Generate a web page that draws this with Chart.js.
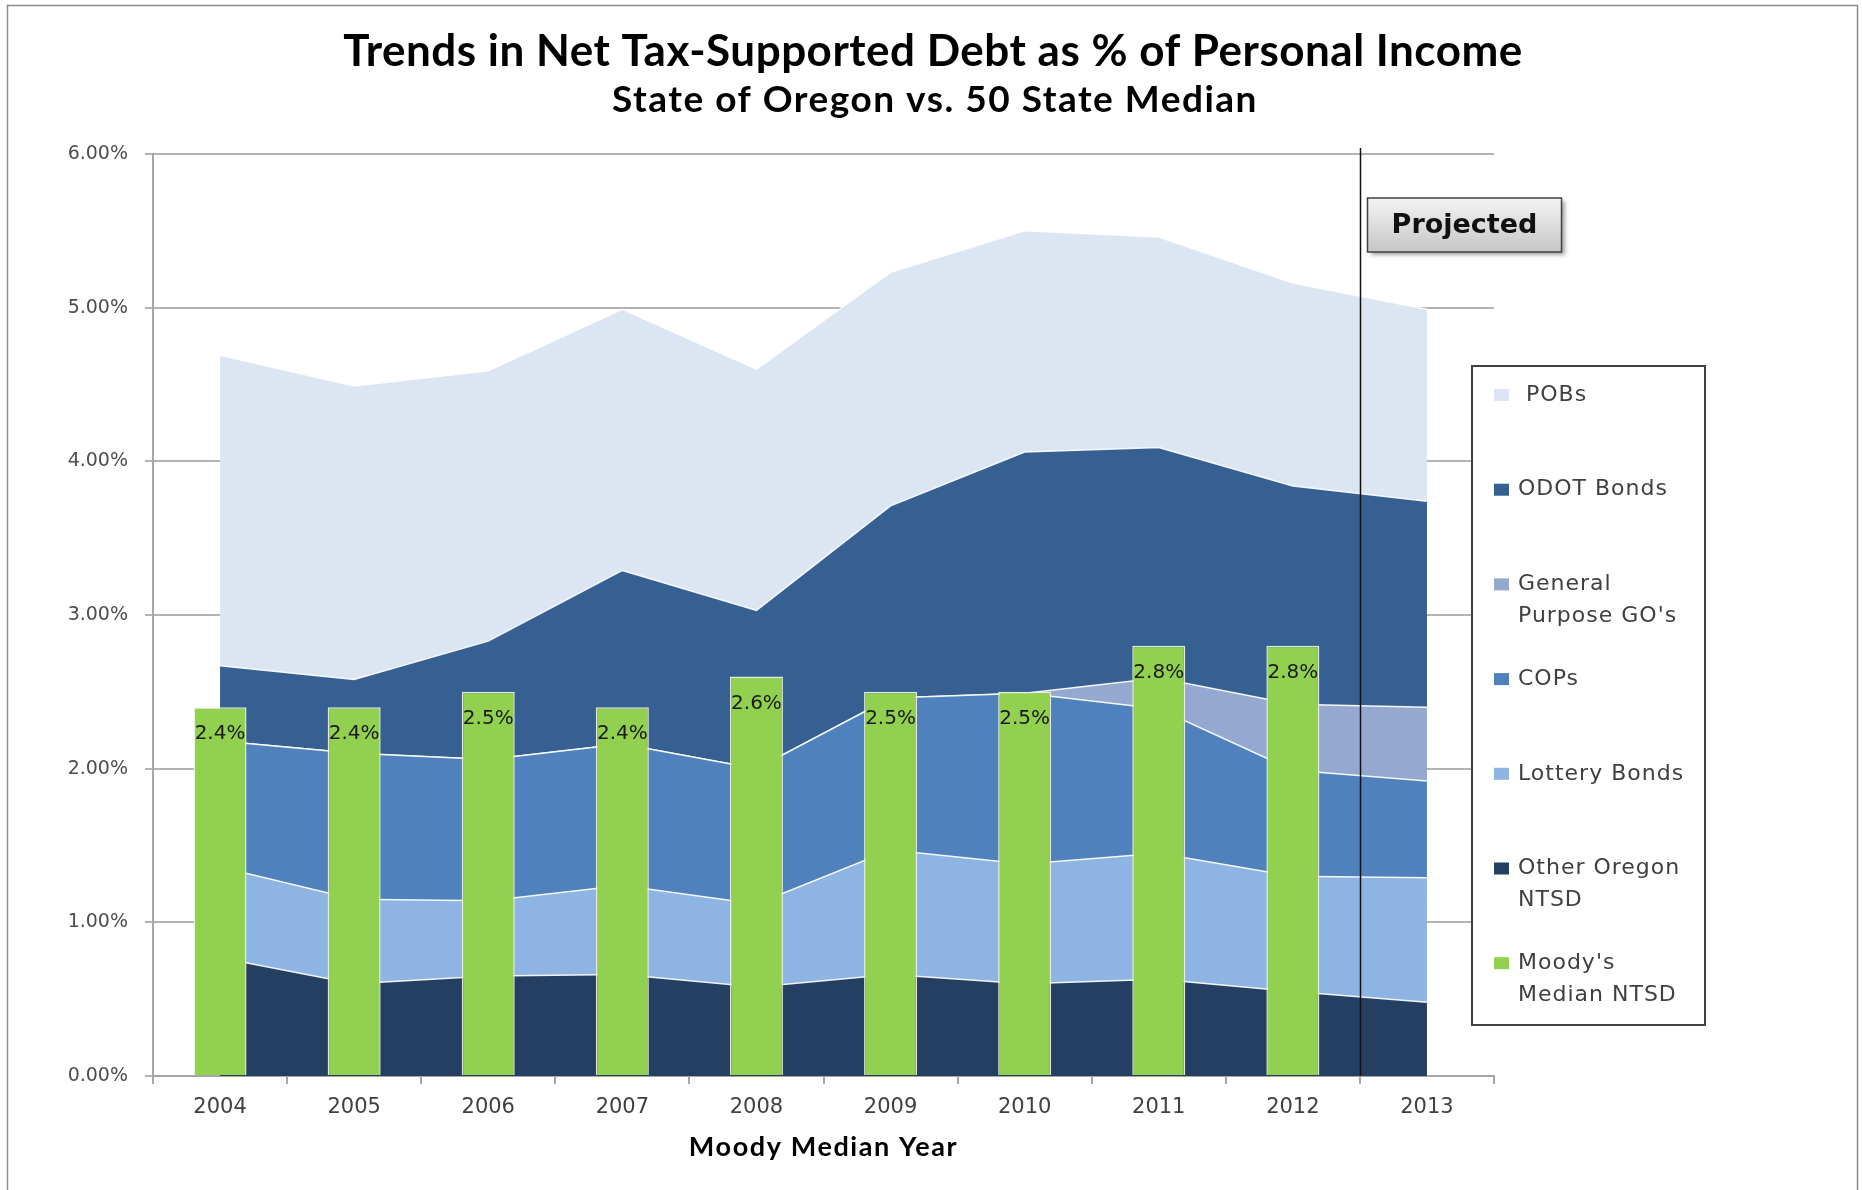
<!DOCTYPE html>
<html>
<head>
<meta charset="utf-8">
<title>Net Tax-Supported Debt</title>
<script src="https://cdn.jsdelivr.net/npm/chart.js@4/dist/chart.umd.min.js"></script>
<style>
  html, body { margin: 0; padding: 0; background: #ffffff; }
  #wrap { width: 1862px; height: 1190px; }
</style>
</head>
<body>
<div id="wrap"><canvas id="debtChart" width="1862" height="1190"></canvas></div>
<script>
// years on the x axis
const years = ['2004', '2005', '2006', '2007', '2008', '2009', '2010', '2011', '2012', '2013'];

// Oregon net tax-supported debt, % of personal income, stacked bottom to top
const otherOregon  = [0.77, 0.60, 0.65, 0.66, 0.58, 0.66, 0.60, 0.63, 0.55, 0.48];
const lotteryBonds = [0.59, 0.55, 0.49, 0.58, 0.54, 0.81, 0.78, 0.82, 0.75, 0.81];
const cops         = [0.82, 0.95, 0.92, 0.92, 0.88, 0.99, 1.11, 0.94, 0.69, 0.63];
const generalGO    = [0, 0, 0, 0, 0, 0, 0, 0.20, 0.43, 0.48];
const odotBonds    = [0.49, 0.48, 0.77, 1.13, 1.03, 1.25, 1.57, 1.50, 1.42, 1.34];
const pobs         = [2.02, 1.91, 1.76, 1.70, 1.57, 1.52, 1.44, 1.37, 1.32, 1.25];

// Moody's 50 state median (no figure for the projected year)
const moodysMedian = [2.4, 2.4, 2.5, 2.4, 2.6, 2.5, 2.5, 2.8, 2.8, null];

const yTicks = [0, 1, 2, 3, 4, 5, 6];

const chartTitle = 'Trends in Net Tax-Supported Debt as % of Personal Income';
const chartSubtitle = 'State of Oregon vs. 50 State Median';
const xTitle = 'Moody Median Year';
const projectedText = 'Projected';

function area(label, data, color, fill) {
  return {
    type: 'line',
    label: label,
    data: data,
    backgroundColor: color,
    borderColor: 'rgba(255,255,255,0.9)',
    borderWidth: 1.5,
    pointRadius: 0,
    tension: 0,
    fill: fill,
    order: 1
  };
}

const datasets = [
  area('Other Oregon\nNTSD', otherOregon, '#253f62', 'origin'),
  area('Lottery Bonds', lotteryBonds, '#8eb4e3', '-1'),
  area('COPs', cops, '#4f81bd', '-1'),
  area("General\nPurpose GO's", generalGO, '#95a9d0', '-1'),
  area('ODOT Bonds', odotBonds, '#366092', '-1'),
  area(' POBs', pobs, '#dce6f2', '-1'),
  {
    type: 'bar',
    label: "Moody's\nMedian NTSD",
    data: moodysMedian,
    backgroundColor: '#92d050',
    borderColor: 'rgba(235,240,230,0.95)',
    borderWidth: 1.5,
    barPercentage: 0.395,
    categoryPercentage: 1.0,
    order: 0
  }
];

// legend runs top to bottom: stack reversed, then the bar series
const legendOrder = [5, 4, 3, 2, 1, 0, 6];

function spacedText(ctx, text, x, y, font, spacing) {
  ctx.font = font;
  ctx.letterSpacing = spacing + 'px';
  ctx.fillText(text, x, y);
  ctx.letterSpacing = '0px';
}

const decor = {
  id: 'decor',
  beforeDraw(chart) {
    const ctx = chart.ctx;
    ctx.save();
    ctx.fillStyle = '#ffffff';
    ctx.fillRect(0, 0, chart.width, chart.height);
    ctx.strokeStyle = '#8c8c8c';
    ctx.lineWidth = 1.5;
    ctx.strokeRect(7.5, 5.5, 1850, 1200);
    ctx.restore();
  },
  afterDatasetsDraw(chart) {
    const ctx = chart.ctx;
    const xs = chart.scales.x;
    const area = chart.chartArea;

    // value labels inside the top of each median bar
    const barIndex = datasets.length - 1;
    ctx.save();
    ctx.font = '20px "DejaVu Sans"';
    ctx.fillStyle = '#1a1a1a';
    ctx.textAlign = 'center';
    ctx.textBaseline = 'top';
    chart.getDatasetMeta(barIndex).data.forEach((bar, i) => {
      const v = moodysMedian[i];
      if (v == null) return;
      ctx.fillText(v.toFixed(1) + '%', bar.x, bar.y + 17);
    });

    // divider between actual and projected years
    const divX = Math.round((xs.getPixelForValue(8) + xs.getPixelForValue(9)) / 2) + 0.5;
    ctx.strokeStyle = '#111111';
    ctx.lineWidth = 1.5;
    ctx.beginPath();
    ctx.moveTo(divX, area.top - 6);
    ctx.lineTo(divX, area.bottom);
    ctx.stroke();

    // "Projected" callout box
    const bx = divX + 7, by = 198, bw = 194, bh = 54;
    ctx.shadowColor = 'rgba(0,0,0,0.35)';
    ctx.shadowBlur = 4;
    ctx.shadowOffsetX = 3;
    ctx.shadowOffsetY = 3;
    const grad = ctx.createLinearGradient(0, by, 0, by + bh);
    grad.addColorStop(0, '#f4f4f4');
    grad.addColorStop(1, '#c6c6c6');
    ctx.fillStyle = grad;
    ctx.fillRect(bx, by, bw, bh);
    ctx.shadowColor = 'transparent';
    ctx.strokeStyle = '#404040';
    ctx.lineWidth = 1.5;
    ctx.strokeRect(bx, by, bw, bh);
    ctx.fillStyle = '#111111';
    ctx.font = 'bold 27px "DejaVu Sans"';
    ctx.textBaseline = 'middle';
    ctx.fillText(projectedText, bx + bw / 2, by + bh / 2 + 1);
    ctx.restore();
  },
  afterDraw(chart) {
    const ctx = chart.ctx;
    const area = chart.chartArea;
    ctx.save();

    // titles
    ctx.fillStyle = '#000000';
    ctx.textAlign = 'center';
    ctx.textBaseline = 'middle';
    spacedText(ctx, chartTitle, 933, 52, 'bold 44px Lato', 0.5);
    spacedText(ctx, chartSubtitle, 935, 100, 'bold 37px Lato', 1.5);
    spacedText(ctx, xTitle, (area.left + area.right) / 2, 1147, 'bold 27px Lato', 1.6);

    // legend box
    const lx = 1472, ly = 366, lw = 233, lh = 659;
    ctx.fillStyle = '#ffffff';
    ctx.fillRect(lx, ly, lw, lh);
    ctx.strokeStyle = '#404040';
    ctx.lineWidth = 2;
    ctx.strokeRect(lx, ly, lw, lh);

    ctx.textAlign = 'left';
    ctx.font = '22px "DejaVu Sans"';
    ctx.letterSpacing = '1px';
    legendOrder.forEach((di, k) => {
      const ds = datasets[di];
      const cy = 395 + k * 94.7;
      ctx.fillStyle = ds.backgroundColor;
      ctx.fillRect(1494, cy - 6, 15, 12);
      ctx.fillStyle = '#404040';
      ds.label.split('\n').forEach((line, j) => {
        ctx.fillText(line, 1518, cy + j * 32);
      });
    });
    ctx.restore();
  }
};

new Chart(document.getElementById('debtChart'), {
  data: {
    labels: years,
    datasets: datasets
  },
  options: {
    responsive: false,
    animation: false,
    devicePixelRatio: 1,
    layout: { padding: { left: 61, right: 368, top: 154, bottom: 0 } },
    plugins: {
      legend: { display: false },
      tooltip: { enabled: false },
      title: { display: false }
    },
    scales: {
      x: {
        offset: true,
        grid: { offset: true, drawOnChartArea: false, tickLength: 8, color: '#a6a6a6', lineWidth: 2 },
        border: { color: '#a6a6a6', width: 2 },
        ticks: {
          font: { family: 'DejaVu Sans', size: 21 },
          color: '#404040',
          padding: 11,
          maxRotation: 0
        },
        afterFit(scale) { scale.height = 114; }
      },
      y: {
        stacked: true,
        min: yTicks[0],
        max: yTicks[yTicks.length - 1],
        afterBuildTicks(scale) { scale.ticks = yTicks.map(v => ({ value: v })); },
        ticks: {
          callback: v => v.toFixed(2) + '%',
          font: { family: 'DejaVu Sans', size: 19 },
          color: '#4d4d4d',
          padding: 17
        },
        grid: { color: '#b3b3b3', lineWidth: 2, tickLength: 8 },
        border: { color: '#a6a6a6', width: 2 },
        afterFit(scale) { scale.width = 92; }
      }
    }
  },
  plugins: [decor]
});
</script>
</body>
</html>
